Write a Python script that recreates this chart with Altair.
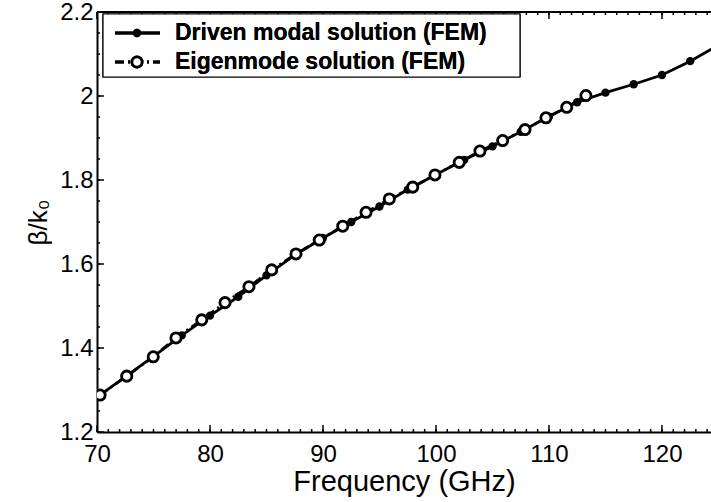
import altair as alt
import pandas as pd

# ---- data ----
driven_f = [70, 72.5, 75, 77.5, 80, 82.5, 85, 87.5, 90, 92.5, 95, 97.5, 100,
            102.5, 105, 107.5, 110, 112.5, 115, 117.5, 120, 122.5, 125]
driven_b = [1.283, 1.331, 1.380, 1.430, 1.477, 1.522, 1.573, 1.621, 1.662, 1.700,
            1.737, 1.777, 1.813, 1.848, 1.880, 1.915, 1.951, 1.985, 2.008, 2.028,
            2.050, 2.083, 2.121]
eigen_f = [70.27, 72.63, 74.98, 76.99, 79.27, 81.33, 83.45, 85.46, 87.61, 89.67,
           91.75, 93.81, 95.87, 97.94, 99.91, 102.06, 103.89, 105.90, 107.88,
           109.73, 111.57, 113.27]
eigen_b = [1.288, 1.333, 1.379, 1.424, 1.467, 1.508, 1.546, 1.586, 1.624, 1.657,
           1.690, 1.723, 1.755, 1.783, 1.812, 1.842, 1.869, 1.894, 1.920,
           1.948, 1.973, 2.001]

x_major = [70, 80, 90, 100, 110, 120]
x_minor = list(range(70, 125))
y_major = [1.2, 1.4, 1.6, 1.8, 2.0, 2.2]
y_minor = [round(1.2 + 0.05 * i, 2) for i in range(21)]

legend_labels = ["Driven modal solution (FEM)", "Eigenmode solution (FEM)"]

W, H = 614, 420
FONT = "Liberation Sans"

driven = pd.DataFrame({"f": driven_f, "b": driven_b})
eigen = pd.DataFrame({"f": eigen_f, "b": eigen_b})

xs = alt.Scale(domain=[70, 124.34], nice=False, zero=False)
ys = alt.Scale(domain=[1.2, 2.2], nice=False, zero=False)

xaxis = alt.Axis(values=x_major, tickSize=0, labelFontSize=24, labelFont=FONT,
                 labelColor="black", labelPadding=10, title="Frequency (GHz)",
                 titleFont=FONT, titleFontSize=29, titleFontWeight="normal",
                 titleColor="black", titlePadding=1, domainColor="black",
                 domainWidth=2, grid=False, labelFlush=False)
yaxis = alt.Axis(values=y_major, tickSize=0, labelFontSize=24, labelFont=FONT,
                 labelColor="black", labelPadding=4, title="β/k₀",
                 titleFont=FONT, titleFontSize=26, titleFontWeight="normal",
                 titleColor="black", titlePadding=8, domainColor="black",
                 domainWidth=2, grid=False, labelFlush=False,
                 labelExpr="datum.value == 2 ? '2' : format(datum.value, '.1f')")

X = alt.X("f:Q", scale=xs, axis=xaxis)
Y = alt.Y("b:Q", scale=ys, axis=yaxis)

# inward ticks
xmin_df = pd.DataFrame({"f": x_minor})
xmaj_df = pd.DataFrame({"f": x_major})
ymin_df = pd.DataFrame({"b": y_minor})
ymaj_df = pd.DataFrame({"b": y_major})

tk = dict(color="black", strokeWidth=1.5)
t1 = alt.Chart(xmin_df).mark_rule(**tk).encode(x=X, y=alt.value(H), y2=alt.value(H - 3))
t2 = alt.Chart(xmin_df).mark_rule(**tk).encode(x=X, y=alt.value(0), y2=alt.value(3))
t3 = alt.Chart(xmaj_df).mark_rule(**tk).encode(x=X, y=alt.value(H), y2=alt.value(H - 7))
t4 = alt.Chart(xmaj_df).mark_rule(**tk).encode(x=X, y=alt.value(0), y2=alt.value(7))
t5 = alt.Chart(ymin_df).mark_rule(**tk).encode(y=Y, x=alt.value(0), x2=alt.value(3))
t6 = alt.Chart(ymaj_df).mark_rule(**tk).encode(y=Y, x=alt.value(0), x2=alt.value(7))

top_border = alt.Chart(xmaj_df).mark_rule(color="black", strokeWidth=2).encode(
    x=alt.value(0), x2=alt.value(W), y=alt.value(0))

LW = 2.8
eig_line = alt.Chart(eigen).mark_line(color="black", strokeWidth=LW,
                                      strokeDash=[9, 4, 2, 4], clip=True).encode(x=X, y=Y)
drv_line = alt.Chart(driven).mark_line(color="black", strokeWidth=LW, clip=True).encode(x=X, y=Y)
drv_pts = alt.Chart(driven).mark_point(shape="circle", filled=True, color="black",
                                       size=70, opacity=1, clip=True).encode(x=X, y=Y)
eig_pts = alt.Chart(eigen).mark_point(shape="circle", filled=True, fill="white",
                                      stroke="black", strokeWidth=2.8, size=105,
                                      opacity=1, clip=True).encode(x=X, y=Y)

# legend
leg_df = pd.DataFrame({"label": legend_labels})
leg_box = alt.Chart(leg_df).mark_rect(fill="white", stroke="black", strokeWidth=1.2).encode(
    x=alt.value(6), x2=alt.value(423), y=alt.value(2), y2=alt.value(65))
r1y, r2y = 21, 50
leg_l1 = alt.Chart(leg_df).mark_rule(color="black", strokeWidth=LW).encode(
    x=alt.value(18), x2=alt.value(63), y=alt.value(r1y))
leg_p1 = alt.Chart(leg_df).mark_point(shape="circle", filled=True, color="black",
                                      size=70, opacity=1).encode(x=alt.value(40), y=alt.value(r1y))
leg_l2 = alt.Chart(leg_df).mark_rule(color="black", strokeWidth=LW,
                                     strokeDash=[9, 4, 2, 4]).encode(
    x=alt.value(18), x2=alt.value(63), y=alt.value(r2y))
leg_p2 = alt.Chart(leg_df).mark_point(shape="circle", filled=True, fill="white",
                                      stroke="black", strokeWidth=2.8, size=105,
                                      opacity=1).encode(x=alt.value(40), y=alt.value(r2y))
leg_t1 = alt.Chart(leg_df).mark_text(align="left", baseline="middle", font=FONT,
                                     fontSize=23, fontWeight="bold", color="black").encode(
    x=alt.value(78), y=alt.value(r1y), text=alt.value(legend_labels[0]))
leg_t2 = alt.Chart(leg_df).mark_text(align="left", baseline="middle", font=FONT,
                                     fontSize=23, fontWeight="bold", color="black").encode(
    x=alt.value(78), y=alt.value(r2y), text=alt.value(legend_labels[1]))

chart = alt.layer(
    t1, t2, t3, t4, t5, t6, eig_line, drv_line, drv_pts, eig_pts, top_border,
    leg_box, leg_l1, leg_l2, leg_p1, leg_p2, leg_t1, leg_t2
).properties(
    width=W, height=H,
    autosize=alt.AutoSizeParams(type="none"),
    padding={"left": 97, "top": 12, "right": 0, "bottom": 70},
    background="white",
).configure_view(stroke=None)

chart.save("out.html", embed_options={"renderer": "svg", "actions": False})
